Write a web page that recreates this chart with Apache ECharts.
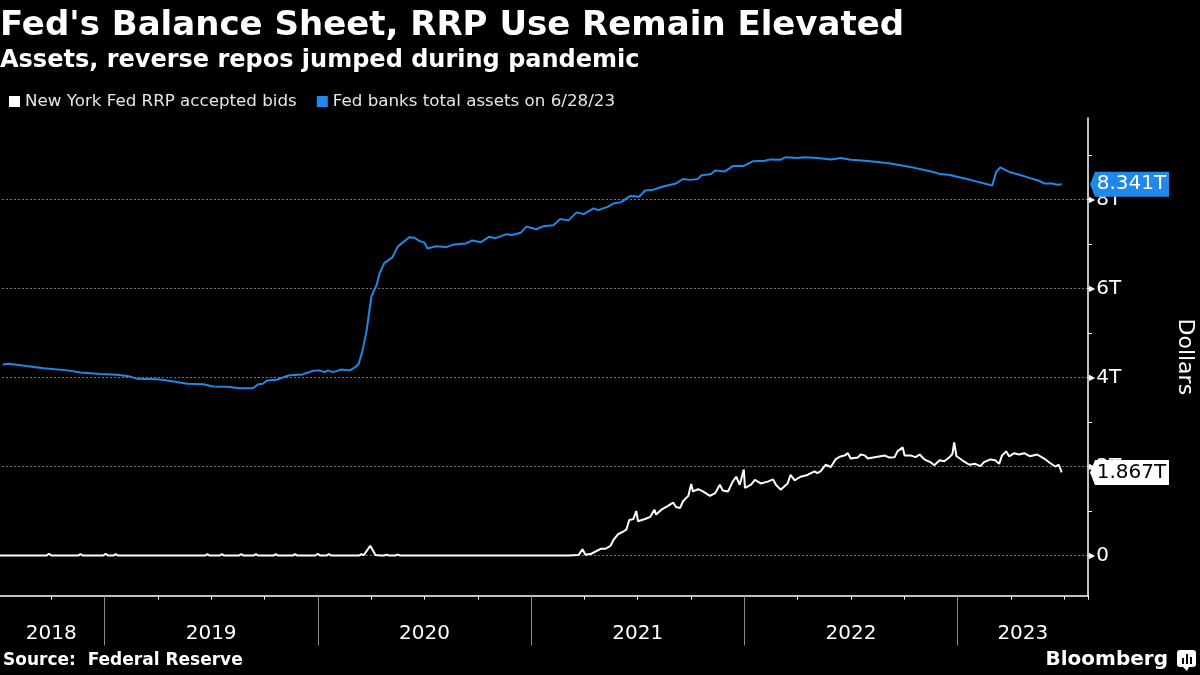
<!DOCTYPE html>
<html>
<head>
<meta charset="utf-8">
<script src="https://cdn.jsdelivr.net/npm/echarts@6/dist/echarts.min.js"></script>
<style>
html,body{margin:0;padding:0;background:#000;}
#chart{width:1200px;height:675px;}
</style>
</head>
<body>
<div id="chart"></div>
<script>
// ---------------- DATA ----------------
const seriesNames = ['New York Fed RRP accepted bids', 'Fed banks total assets on 6/28/23'];
const yearLabels = [2018, 2019, 2020, 2021, 2022, 2023];
const yLabelValues = [0, 2, 4, 6, 8];

// New York Fed RRP accepted bids (trillions of dollars)
const rrp = [
  ['2018-07-06',0],
  ['2018-09-24',0],['2018-09-28',0.04],['2018-10-02',0],
  ['2018-11-17',0],['2018-11-21',0.03],['2018-11-25',0],
  ['2018-12-30',0],['2019-01-03',0.04],['2019-01-07',0],
  ['2019-01-16',0],['2019-01-20',0.03],['2019-01-24',0],
  ['2019-06-22',0],['2019-06-26',0.03],['2019-06-30',0],
  ['2019-07-17',0],['2019-07-21',0.03],['2019-07-25',0],
  ['2019-08-19',0],['2019-08-23',0.03],['2019-08-27',0],
  ['2019-09-13',0],['2019-09-17',0.03],['2019-09-21',0],
  ['2019-10-17',0],['2019-10-21',0.03],['2019-10-25',0],
  ['2019-11-19',0],['2019-11-23',0.03],['2019-11-27',0],
  ['2019-12-28',0],['2020-01-01',0.04],['2020-01-05',0],
  ['2020-01-16',0],['2020-01-20',0.03],['2020-01-24',0],
  ['2020-03-12',0],['2020-03-16',0.03],['2020-03-20',0.01],['2020-03-31',0.22],['2020-04-09',0.01],
  ['2020-04-18',0],['2020-04-21',0.03],['2020-04-24',0],['2020-04-28',0.02],['2020-05-02',0],
  ['2020-05-07',0],['2020-05-10',0.03],['2020-05-13',0],['2020-05-17',0.02],['2020-05-21',0],
  ['2021-03-06',0],['2021-03-23',0.01],['2021-03-30',0.14],['2021-04-04',0.02],['2021-04-14',0.04],
  ['2021-04-30',0.15],['2021-05-08',0.15],['2021-05-17',0.22],['2021-05-22',0.35],['2021-05-30',0.48],
  ['2021-06-08',0.54],['2021-06-13',0.58],['2021-06-18',0.80],['2021-06-25',0.82],['2021-06-30',1.00],
  ['2021-07-03',0.77],['2021-07-15',0.82],['2021-07-24',0.87],['2021-07-31',1.03],['2021-08-03',0.92],
  ['2021-08-12',1.03],['2021-08-24',1.12],['2021-09-01',1.19],['2021-09-06',1.09],['2021-09-13',1.07],
  ['2021-09-18',1.22],['2021-09-27',1.34],['2021-10-02',1.61],['2021-10-05',1.44],['2021-10-14',1.49],
  ['2021-10-22',1.44],['2021-11-03',1.34],['2021-11-12',1.40],['2021-11-20',1.59],['2021-11-25',1.46],
  ['2021-12-04',1.44],['2021-12-12',1.66],['2021-12-18',1.77],['2021-12-24',1.59],['2021-12-31',1.93],
  ['2022-01-02',1.52],['2022-01-12',1.59],['2022-01-19',1.70],['2022-01-29',1.62],['2022-02-10',1.66],
  ['2022-02-19',1.71],['2022-02-24',1.59],['2022-03-04',1.48],['2022-03-16',1.62],['2022-03-21',1.81],
  ['2022-03-28',1.69],['2022-04-07',1.77],['2022-04-19',1.81],['2022-05-01',1.89],['2022-05-06',1.85],
  ['2022-05-12',1.90],['2022-05-20',2.04],['2022-05-29',1.99],['2022-06-06',2.16],['2022-06-13',2.22],
  ['2022-06-22',2.25],['2022-06-27',2.30],['2022-07-02',2.18],['2022-07-14',2.20],['2022-07-19',2.27],
  ['2022-07-26',2.25],['2022-07-31',2.18],['2022-08-12',2.21],['2022-08-29',2.25],['2022-09-06',2.20],
  ['2022-09-15',2.21],['2022-09-20',2.34],['2022-09-29',2.43],['2022-10-02',2.25],['2022-10-12',2.25],
  ['2022-10-21',2.21],['2022-10-28',2.27],['2022-11-05',2.16],['2022-11-15',2.10],['2022-11-22',2.03],
  ['2022-12-01',2.14],['2022-12-09',2.12],['2022-12-18',2.21],['2022-12-23',2.28],['2022-12-26',2.54],
  ['2022-12-30',2.23],['2023-01-09',2.14],['2023-01-21',2.04],['2023-01-31',2.06],['2023-02-09',2.01],
  ['2023-02-15',2.10],['2023-02-26',2.16],['2023-03-06',2.14],['2023-03-13',2.06],['2023-03-18',2.25],
  ['2023-03-25',2.34],['2023-03-30',2.23],['2023-04-08',2.30],['2023-04-16',2.27],['2023-04-25',2.30],
  ['2023-05-05',2.23],['2023-05-17',2.27],['2023-05-29',2.18],['2023-06-08',2.08],['2023-06-17',2.00],
  ['2023-06-23',2.04],['2023-06-28',1.867]
];

// Fed banks total assets (trillions of dollars)
const assets = [
  ['2018-07-11',4.29],['2018-07-21',4.31],['2018-09-19',4.21],['2018-10-30',4.16],['2018-11-21',4.11],
  ['2018-12-25',4.08],['2019-01-23',4.06],['2019-02-14',4.02],['2019-02-26',3.97],['2019-04-01',3.96],
  ['2019-04-18',3.93],['2019-05-23',3.86],['2019-06-19',3.85],['2019-07-06',3.80],['2019-07-30',3.79],
  ['2019-08-21',3.76],['2019-09-12',3.76],['2019-09-21',3.85],['2019-09-29',3.86],['2019-10-06',3.93],
  ['2019-10-23',3.95],['2019-11-02',4.00],['2019-11-14',4.05],['2019-12-06',4.07],['2019-12-24',4.15],
  ['2020-01-04',4.16],['2020-01-13',4.12],['2020-01-18',4.16],['2020-01-27',4.12],['2020-02-11',4.18],
  ['2020-02-25',4.16],['2020-03-06',4.24],['2020-03-11',4.30],['2020-03-18',4.62],['2020-03-25',5.07],
  ['2020-04-02',5.82],['2020-04-11',6.08],['2020-04-16',6.34],['2020-04-24',6.57],['2020-05-08',6.70],
  ['2020-05-17',6.94],['2020-06-06',7.15],['2020-06-15',7.14],['2020-06-23',7.07],['2020-07-02',7.03],
  ['2020-07-07',6.90],['2020-07-22',6.95],['2020-08-08',6.93],['2020-08-22',6.99],['2020-09-11',7.01],
  ['2020-09-22',7.08],['2020-10-07',7.04],['2020-10-21',7.16],['2020-11-01',7.13],['2020-11-20',7.22],
  ['2020-11-29',7.20],['2020-12-14',7.25],['2020-12-24',7.39],['2021-01-10',7.33],['2021-01-22',7.40],
  ['2021-02-08',7.42],['2021-02-20',7.56],['2021-03-06',7.53],['2021-03-20',7.71],['2021-04-01',7.67],
  ['2021-04-18',7.80],['2021-04-26',7.76],['2021-05-13',7.84],['2021-05-22',7.91],['2021-06-04',7.94],
  ['2021-06-20',8.08],['2021-07-05',8.06],['2021-07-15',8.20],['2021-07-27',8.21],['2021-08-15',8.29],
  ['2021-09-06',8.36],['2021-09-18',8.46],['2021-09-30',8.44],['2021-10-14',8.46],['2021-10-19',8.54],
  ['2021-11-05',8.57],['2021-11-12',8.65],['2021-11-29',8.63],['2021-12-12',8.75],['2021-12-30',8.75],
  ['2022-01-16',8.86],['2022-02-05',8.87],['2022-02-15',8.90],['2022-03-03',8.89],['2022-03-13',8.95],
  ['2022-04-02',8.93],['2022-04-14',8.95],['2022-05-07',8.93],['2022-05-29',8.90],['2022-06-15',8.93],
  ['2022-07-02',8.89],['2022-07-26',8.87],['2022-08-17',8.84],['2022-09-08',8.81],['2022-10-02',8.75],
  ['2022-10-19',8.71],['2022-11-05',8.66],['2022-11-22',8.61],['2022-12-02',8.57],['2022-12-19',8.55],
  ['2022-12-31',8.51],['2023-01-17',8.46],['2023-02-03',8.40],['2023-02-21',8.34],['2023-03-01',8.31],
  ['2023-03-08',8.62],['2023-03-15',8.72],['2023-04-01',8.61],['2023-04-18',8.55],['2023-05-05',8.48],
  ['2023-05-20',8.42],['2023-05-29',8.36],['2023-06-11',8.36],['2023-06-21',8.33],['2023-06-28',8.341]
];

// axis ranges (decimal years / trillions)
const xMin = 2018.5, xMax = 2023.611;
const yMin = -0.9, yMax = 9.83;

// ---------------- LAYOUT ----------------
const W = 1200, H = 675;
const plotLeft = -2.15, plotRight = 1088, plotTop = 118, plotBottom = 595.6;
const FONT = 'DejaVu Sans';
const BLUE = '#1f88e8';

function toYear(s) {
  const p = s.split('-').map(Number);
  const t = Date.UTC(p[0], p[1] - 1, p[2]);
  const a = Date.UTC(p[0], 0, 1), b = Date.UTC(p[0] + 1, 0, 1);
  return p[0] + (t - a) / (b - a);
}
function yPx(v) { return plotBottom - (v - yMin) / (yMax - yMin) * (plotBottom - plotTop); }
function xPx(v) { return plotLeft + (v - xMin) / (xMax - xMin) * (plotRight - plotLeft); }

const rrpData = rrp.map(d => [toYear(d[0]), d[1]]);
const assetData = assets.map(d => [toYear(d[0]), d[1]]);
const rrpLast = rrp[rrp.length - 1][1];
const assetLast = assets[assets.length - 1][1];

function fmtT(v) { return v.toFixed(3) + 'T'; }

const chart = echarts.init(document.getElementById('chart'), null, {renderer: 'canvas', width: W, height: H});

const pennant = 'path://M0,12.5 L5,0 L79,0 L79,25 L5,25 Z';

function endMarker(last, fill, textColor) {
  return {
    silent: true,
    animation: false,
    symbol: pennant,
    symbolSize: [79, 25],
    symbolKeepAspect: false,
    symbolOffset: [41.5, 0],
    itemStyle: {color: fill},
    label: {
      show: true, position: 'inside', offset: [2, 0],
      formatter: () => fmtT(last),
      color: textColor, fontSize: 20, fontFamily: FONT
    },
    data: [{coord: [xMax, last], value: last}]
  };
}

function gridBox(top, bottom, left, right) {
  return {left: left, right: W - right, top: top, bottom: H - bottom, outerBoundsMode: 'none', containLabel: false};
}

const option = {
  backgroundColor: '#000000',
  animation: false,
  textStyle: {fontFamily: FONT},
  title: [
    {text: "Fed's Balance Sheet, RRP Use Remain Elevated", left: 0, top: 9, padding: 0,
      textStyle: {color: '#fff', fontSize: 34, fontWeight: 'bold', fontFamily: FONT}},
    {text: 'Assets, reverse repos jumped during pandemic', left: 0, top: 49, padding: 0,
      textStyle: {color: '#fff', fontSize: 24, fontWeight: 'bold', fontFamily: FONT}},
    {text: 'Source:  Federal Reserve', left: 3, top: 652, padding: 0,
      textStyle: {color: '#fff', fontSize: 17, fontWeight: 'bold', fontFamily: FONT}},
    {text: 'Bloomberg', right: 32, top: 650, padding: 0,
      textStyle: {color: '#fff', fontSize: 20, fontWeight: 'bold', fontFamily: FONT}}
  ],
  legend: {
    data: seriesNames,
    left: 9, top: 93, padding: 0,
    icon: 'rect', itemWidth: 11, itemHeight: 11, itemGap: 20,
    textStyle: {color: '#e6e6e6', fontSize: 16.7, fontFamily: FONT},
    selectedMode: false
  },
  grid: [
    gridBox(plotTop, plotBottom, plotLeft, plotRight),
    gridBox(yPx(9), yPx(0), plotLeft, plotRight),
    gridBox(yPx(8), yPx(0), plotLeft, plotRight),
    gridBox(plotTop, plotBottom, xPx(2019), xPx(2023))
  ],
  xAxis: [
    {gridIndex: 0, type: 'value', min: xMin, max: xMax, interval: 0.25,
      axisLine: {show: true, onZero: false, lineStyle: {color: '#fff', width: 1.5}},
      axisTick: {show: true, length: 4, lineStyle: {color: '#fff', width: 1}},
      axisLabel: {show: false}, splitLine: {show: false}},
    {gridIndex: 1, type: 'value', min: xMin, max: xMax, show: false},
    {gridIndex: 2, type: 'value', min: xMin, max: xMax, show: false},
    {gridIndex: 3, type: 'value', min: yearLabels[1], max: yearLabels[yearLabels.length - 1], interval: 1,
      axisLine: {show: false, onZero: false},
      axisTick: {show: true, length: 50, lineStyle: {color: '#8a8a8a', width: 1}},
      axisLabel: {show: false}, splitLine: {show: false}}
  ],
  yAxis: [
    {gridIndex: 0, type: 'value', min: yMin, max: yMax, position: 'right',
      axisLine: {show: true, onZero: false, lineStyle: {color: '#fff', width: 1.5}},
      axisTick: {show: false}, axisLabel: {show: false}, splitLine: {show: false},
      name: 'Dollars', nameLocation: 'middle', nameRotate: -90, nameGap: 86,
      nameTextStyle: {color: '#fff', fontSize: 22, fontFamily: FONT}},
    {gridIndex: 1, type: 'value', min: 0, max: 9, interval: 1, position: 'right',
      axisLine: {show: false, onZero: false},
      axisTick: {show: true, inside: false, length: 4, lineStyle: {color: '#fff', width: 1}},
      axisLabel: {
        show: true, margin: 1,
        formatter: v => yLabelValues.indexOf(v) >= 0 ? '{tri|\u25B6}{num|' + (v === 0 ? '0' : v + 'T') + '}' : '',
        rich: {
          tri: {fontSize: 8, color: '#fff', fontFamily: FONT, padding: [0, 1, 0, 0]},
          num: {fontSize: 20, color: '#fff', fontFamily: FONT}
        }
      },
      splitLine: {show: false}},
    {gridIndex: 2, type: 'value', min: 0, max: 8, interval: 2, position: 'right',
      axisLine: {show: false, onZero: false}, axisTick: {show: false}, axisLabel: {show: false},
      splitLine: {show: true, lineStyle: {color: '#7a7a7a', width: 1, type: [2, 2]}}},
    {gridIndex: 3, type: 'value', min: 0, max: 1, show: false}
  ],
  series: [
    {
      name: seriesNames[0], type: 'line', xAxisIndex: 0, yAxisIndex: 0,
      data: rrpData, symbol: 'none', showSymbol: false, clip: false,
      lineStyle: {color: '#ffffff', width: 2}, itemStyle: {color: '#ffffff'},
      z: 4,
      markPoint: endMarker(rrpLast, '#ffffff', '#000000')
    },
    {
      name: seriesNames[1], type: 'line', xAxisIndex: 0, yAxisIndex: 0,
      data: assetData, symbol: 'none', showSymbol: false, clip: false,
      lineStyle: {color: BLUE, width: 2}, itemStyle: {color: BLUE},
      z: 3,
      markPoint: endMarker(assetLast, BLUE, '#ffffff')
    }
  ]
};

chart.setOption(option);

// year labels centred in the visible part of each year, positioned through the x axis
const yearTexts = yearLabels.map(y => {
  const a = Math.max(y, xMin), b = Math.min(y + 1, xMax);
  const px = chart.convertToPixel({xAxisIndex: 0}, (a + b) / 2);
  return {
    type: 'text', x: px, y: 634, silent: true,
    style: {text: String(y), fill: '#fff', font: '20px "DejaVu Sans"', align: 'center', verticalAlign: 'middle'}
  };
});

// small Bloomberg logo mark
const logo = {
  type: 'group', x: 1177, y: 650, silent: true,
  children: [
    {type: 'rect', shape: {x: 0, y: 0, width: 19, height: 17, r: 3}, style: {fill: '#fff'}},
    {type: 'polygon', shape: {points: [[6, 17], [10, 21], [12, 17]]}, style: {fill: '#fff'}},
    {type: 'rect', shape: {x: 5, y: 8, width: 2, height: 6}, style: {fill: '#000'}},
    {type: 'rect', shape: {x: 9, y: 4, width: 2, height: 10}, style: {fill: '#000'}},
    {type: 'rect', shape: {x: 13, y: 7, width: 2, height: 7}, style: {fill: '#000'}}
  ]
};

chart.setOption({graphic: yearTexts.concat([logo])});
</script>
</body>
</html>
